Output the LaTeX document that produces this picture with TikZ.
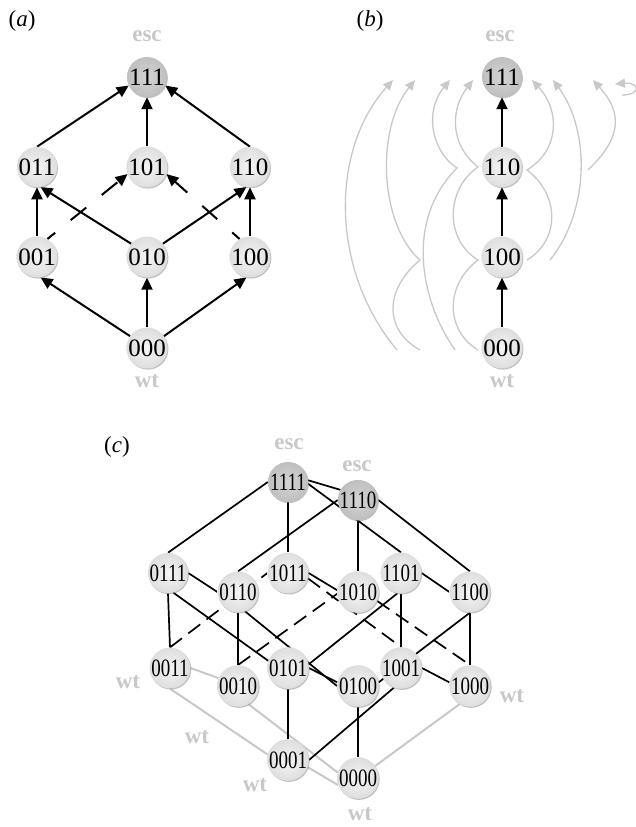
\documentclass[tikz,border=0pt]{standalone}
\usepackage{fontspec}
\setmainfont{Liberation Serif}
\usepackage{graphicx}
\usetikzlibrary{arrows.meta,shadows,backgrounds}
\definecolor{lg}{RGB}{200,200,200}
\newcommand\sqz[1]{\scalebox{0.76}[1]{#1}}
\begin{document}
\begin{tikzpicture}[x=1pt,y=-1pt,
 st/.style={circle,minimum size=40pt,inner sep=0pt,inner color=black!4,outer color=black!13,
   drop shadow={shadow xshift=0.9pt,shadow yshift=-1.1pt,fill=black!45,opacity=0.55},
   font=\fontsize{25}{25}\selectfont},
 escst/.style={st,inner color=black!17,outer color=black!25},
 lbl/.style={text=lg,font=\fontsize{23}{23}\selectfont\bfseries},
 plbl/.style={font=\fontsize{23}{23}\selectfont},
 arr/.style={line width=2pt,-{Triangle[length=12pt,width=11pt]}},
 dsh/.style={dash pattern=on 20pt off 20pt,dash phase=10pt},
 cl/.style={line width=1.7pt},
 cdsh/.style={cl,dash pattern=on 15pt off 8pt},
 gl/.style={line width=2pt,draw=lg},
 gc/.style={line width=1.3pt,draw=lg,-{Triangle[length=10pt,width=9pt]}},
]
\useasboundingbox (0,0) rectangle (636,827);

% ---------- panel (a)
\node[plbl] (la) at (22,21) {(\textit{a})};
\node[lbl] (aesc) at (147,36) {esc};
\node[lbl] (awt) at (147,381) {wt};
\node[escst] (a111) at (147,77) {111};
\node[st] (a011) at (37,167) {011};
\node[st] (a101) at (147,167) {101};
\node[st] (a110) at (250,167) {110};
\node[st] (a001) at (37,257) {001};
\node[st] (a010) at (147,257) {010};
\node[st] (a100) at (250,257) {100};
\node[st] (a000) at (147,348) {000};

% ---------- panel (b)
\node[plbl] (lb) at (370,21) {(\textit{b})};
\node[lbl] (besc) at (500,36) {esc};
\node[lbl] (bwt) at (502,381) {wt};
\node[escst] (b111) at (502,77) {111};
\node[st] (b110) at (502,167) {110};
\node[st] (b100) at (502,257) {100};
\node[st] (b000) at (502,348) {000};

% ---------- panel (c)
\node[plbl] (lc) at (117,447) {(\textit{c})};
\node[lbl] (cesc1) at (289,444) {esc};
\node[lbl] (cesc2) at (357,466) {esc};
\node[lbl] (cwt1) at (128,682) {wt};
\node[lbl] (cwt2) at (197,737) {wt};
\node[lbl] (cwt3) at (255,785) {wt};
\node[lbl] (cwt4) at (360,814) {wt};
\node[lbl] (cwt5) at (512,696) {wt};
\node[escst] (c1111) at (288,482) {\sqz{1111}};
\node[escst] (c1110) at (358,500) {\sqz{1110}};
\node[st] (c0111) at (168,573) {\sqz{0111}};
\node[st] (c1011) at (288,573) {\sqz{1011}};
\node[st] (c1101) at (401,573) {\sqz{1101}};
\node[st] (c0110) at (238,592) {\sqz{0110}};
\node[st] (c1010) at (358,592) {\sqz{1010}};
\node[st] (c1100) at (470,592) {\sqz{1100}};
\node[st] (c0011) at (170,668) {\sqz{0011}};
\node[st] (c0101) at (288,668) {\sqz{0101}};
\node[st] (c1001) at (401,668) {\sqz{1001}};
\node[st] (c0010) at (238,686) {\sqz{0010}};
\node[st] (c0100) at (358,686) {\sqz{0100}};
\node[st] (c1000) at (470,686) {\sqz{1000}};
\node[st] (c0001) at (288,760) {\sqz{0001}};
\node[st] (c0000) at (358,778) {\sqz{0000}};

% grey curve end points in (b)
\coordinate (bA0) at (397,350); \coordinate (bA1) at (393,80);
\coordinate (bB0) at (420,350); \coordinate (bBk) at (420,260); \coordinate (bB1) at (415,80);
\coordinate (bC0) at (455,350); \coordinate (bCk) at (457,168); \coordinate (bC1) at (450,80);
\coordinate (bD0) at (478,350); \coordinate (bDk1) at (478,260); \coordinate (bDk2) at (478,167); \coordinate (bD1) at (473,80);
\coordinate (bE0) at (527,260); \coordinate (bEk) at (527,170); \coordinate (bE1) at (532,80);
\coordinate (bF0) at (550,260); \coordinate (bF1) at (553,80);
\coordinate (bG0) at (588,170); \coordinate (bG1) at (593,80);
\coordinate (bH0) at (622,95); \coordinate (bH1) at (615,84);

\begin{pgfonlayer}{background}
% (a) edges
\draw[arr] (a000.145) -- (a001.-80);
\draw[arr] (a000.north) -- (a010.south);
\draw[arr] (a000.35) -- (a100.-100);
\draw[arr] (a001.north) -- (a011.south);
\draw[arr] (a010.140) -- (a011.-80);
\draw[arr] (a010.40) -- (a110.-100);
\draw[arr] (a100.north) -- (a110.south);
\draw[arr,dsh] (a001.60) -- (a101.200);
\draw[arr,dsh] (a100.120) -- (a101.-20);
\draw[arr] (a011.north) -- (a111.205);
\draw[arr] (a101.north) -- (a111.south);
\draw[arr] (a110.north) -- (a111.-25);

% (b) edges
\draw[arr] (b000.north) -- (b100.south);
\draw[arr] (b100.north) -- (b110.south);
\draw[arr] (b110.north) -- (b111.south);
\draw[gc] (bA0) .. controls (330,270) and (330,150) .. (bA1);
\draw[gc] (bB0) .. controls (384,330) and (384,290) .. (bBk) .. controls (380,225) and (375,130) .. (bB1);
\draw[gc] (bC0) .. controls (420,300) and (405,220) .. (bCk) .. controls (430,150) and (425,110) .. (bC1);
\draw[gc] (bD0) .. controls (445,330) and (445,285) .. (bDk1) .. controls (445,240) and (445,190) .. (bDk2) .. controls (450,145) and (450,110) .. (bD1);
\draw[gc] (bE0) .. controls (560,240) and (560,195) .. (bEk) .. controls (560,150) and (560,110) .. (bE1);
\draw[gc] (bF0) .. controls (590,210) and (590,130) .. (bF1);
\draw[gc] (bG0) .. controls (625,135) and (620,110) .. (bG1);
\draw[gc] (bH0) .. controls (641,95) and (640,82) .. (bH1);

% (c) grey edges
\draw[gl] (c0011.east) -- (c0010.158);
\draw[gl] (c0011.south) -- (c0001.165);
\draw[gl] (c0010.-60) -- (c0000.165);
\draw[gl] (c0001.-20) -- (c0000.200);
\draw[gl] (c1000.-120) -- (c0000.35);
% (c) black edges
\draw[cl] (c1111.west) -- (c0111.north);
\draw[cl] (c1111.south) -- (c1011.north);
\draw[cl] (c1111.5) -- (c1110.150);
\draw[cl] (c1111.-5) -- (c1101.north);
\draw[cl] (c1110.west) -- (c0110.north);
\draw[cl] (c1110.south) -- (c1010.north);
\draw[cl] (c1110.east) -- (c1100.north);
\draw[cl] (c0111.east) -- (c0110.west);
\draw[cl] (c0111.-75) -- (c0101.160);
\draw[cl] (c0111.south) -- (c0011.north);
\draw[cl] (c1011.east) -- (c1010.175);
\draw[cl] (c0110.south) -- (c0010.north);
\draw[cl] (c0110.-70) -- (c0100.west);
\draw[cl] (c0101.east) -- (c0100.170);
\draw[cl] (c1101.east) -- (c1100.west);
\draw[cl] (c1101.south) -- (c1001.north);
\draw[cl] (c1101.-100) -- (c0101.10);
\draw[cl] (c1100.south) -- (c0100.10);
\draw[cl] (c1100.south) -- (c1000.north);
\draw[cl] (c1001.east) -- (c1000.170);
\draw[cl] (c1001.-110) -- (c0001.east);
\draw[cl] (c0101.south) -- (c0001.north);
\draw[cl] (c0100.south) -- (c0000.north);
\draw[cdsh] (c0011.north) -- (c1011.west);
\draw[cdsh] (c0010.north) -- (c1010.185);
\draw[cdsh] (c1011.-15) -- (c1001.north);
\draw[cdsh] (c1010.-25) -- (c1000.north);
\end{pgfonlayer}
\end{tikzpicture}
\end{document}
